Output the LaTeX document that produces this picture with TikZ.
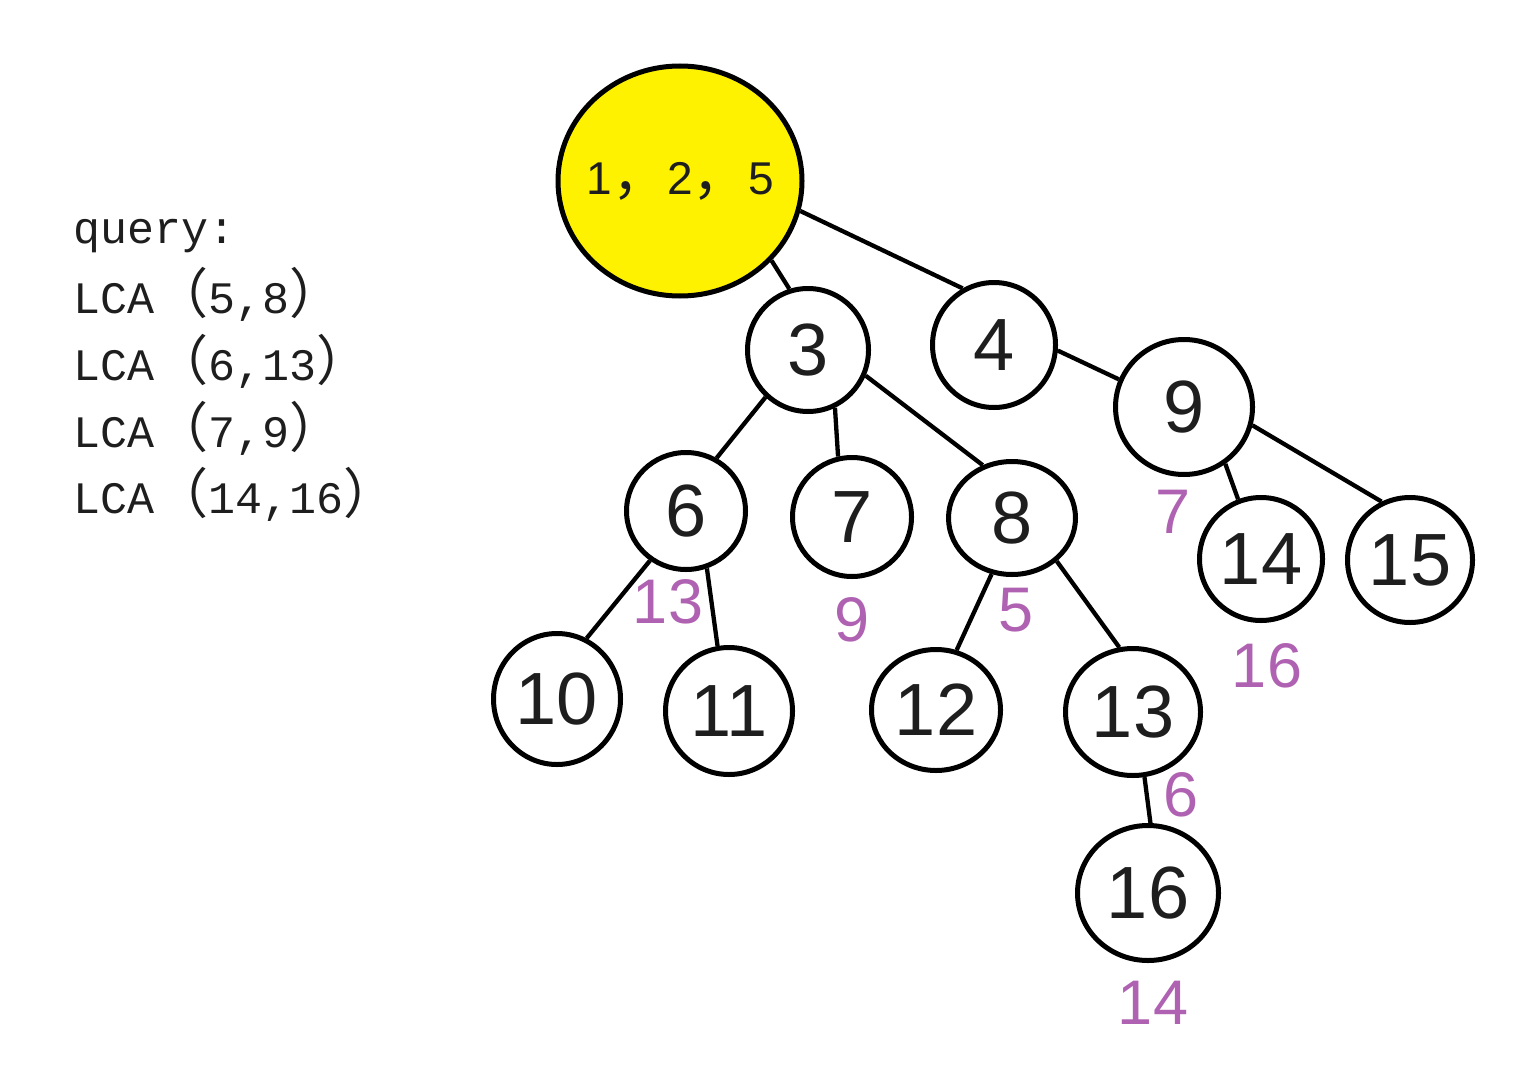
\documentclass[tikz,border=0pt]{standalone}
\usepackage{fontspec}
\setmainfont{Liberation Sans}
\setmonofont{Liberation Mono}
\newfontfamily\cjk{Noto Sans CJK SC}[Scale=1.2]
\usetikzlibrary{shapes.geometric}
\definecolor{rootyellow}{HTML}{FFF200}
\definecolor{tagpurple}{HTML}{B062B2}
\definecolor{ink}{HTML}{1E1E1E}

\begin{document}
\begin{tikzpicture}[x=1pt, y=-1pt,
	vtx/.style={draw, ellipse, line width=5pt, inner sep=0pt, text=ink, font=\fontsize{74}{74}\selectfont},
	sz/.style 2 args={minimum width=#1pt, minimum height=#2pt},
	lbl/.style={inner sep=0pt, text=tagpurple, font=\fontsize{63}{63}\selectfont},
	qry/.style={anchor=base west, inner sep=0pt, text=ink, font=\ttfamily\fontsize{45}{45}\selectfont},
	edge/.style={line width=4.3pt}]
	\def\W{1530}
	\def\H{1078}

	\useasboundingbox (0,0) rectangle (\W,\H);
	\fill[white]		(0,0) rectangle (\W,\H);

	% queries
	\node[qry] (q0) at (73,243) {query:};
	\node[qry] (q1) at (73,313) {LCA{\cjk （}5,8{\cjk ）}};
	\node[qry] (q2) at (73,380) {LCA{\cjk （}6,13{\cjk ）}};
	\node[qry] (q3) at (73,447) {LCA{\cjk （}7,9{\cjk ）}};
	\node[qry] (q4) at (73,513) {LCA{\cjk （}14,16{\cjk ）}};

	% tree
	\node[vtx, sz={244}{230}, fill=rootyellow, font=\rmfamily\fontsize{46}{46}\selectfont] (r) at (680,181) {\makebox[0pt]{1{\cjk ，}2{\cjk ，}5}};
	\node[vtx, sz={121}{123}] (n3) at (808,350) {3};
	\node[vtx, sz={123}{125}] (n4) at (994,345) {4};
	\node[vtx, sz={137}{135}] (n9) at (1184,407) {9};
	\node[vtx, sz={119}{117}] (n6) at (686,511) {6};
	\node[vtx, sz={119}{119}] (n7) at (852,517) {7};
	\node[vtx, sz={127}{113}] (n8) at (1012,518) {8};
	\node[vtx, sz={123}{123}] (n14) at (1261,559) {14};
	\node[vtx, sz={125}{125}] (n15) at (1410,560) {15};
	\node[vtx, sz={127}{131}] (n10) at (557,699) {10};
	\node[vtx, sz={127}{127}] (n11) at (729,711) {11};
	\node[vtx, sz={129}{121}] (n12) at (936,710) {12};
	\node[vtx, sz={135}{127}] (n13) at (1133,712) {13};
	\node[vtx, sz={141}{135}] (n16) at (1148,893) {16};

	\foreach \a/\b in {r.-41/n3.107, r.-14/n4.119, n3.-132/n6.60, n3.-65/n7.103, n3.-24/n8.119,
		n4.-5/n9.157, n9.-54/n14.111, n9.-15/n15.116, n6.-126/n10.64, n6.-70/n11.100,
		n8.-110/n12.71, n8.-44/n13.102, n13.-80/n16.88}
		\draw[edge] (\a) -- (\b);

	% purple tags
	\node[lbl] (t6) at (668,602) {13};
	\node[lbl] (t7) at (852,620) {9};
	\node[lbl] (t8) at (1016,610) {5};
	\node[lbl] (t9) at (1173,512) {7};
	\node[lbl] (t14) at (1267,666) {16};
	\node[lbl] (t13) at (1181,795) {6};
	\node[lbl] (t16) at (1153,1003) {14};
\end{tikzpicture}
\end{document}
